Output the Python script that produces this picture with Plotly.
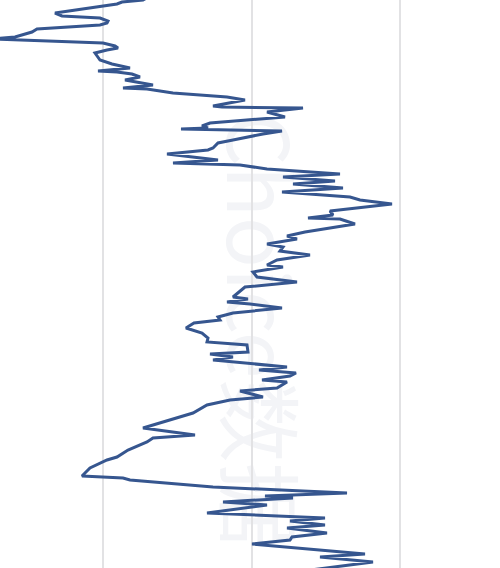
import plotly.graph_objects as go

# Series: step (vertical position, top -> bottom) and value (horizontal)
steps = [
    -4, 0, 2, 4, 13, 16, 18, 21, 23, 25, 29, 32, 37, 39,
    43, 46, 48, 50, 53, 60, 64, 68, 71, 72, 74, 77, 80, 85, 88, 89,
    93, 97, 100, 106, 107, 108, 112, 117, 123, 126, 128, 129, 131, 134,
    140, 143, 148, 150, 154, 160, 163, 165, 169, 174, 177, 181, 184, 188,
    192, 197, 200, 204, 211, 215, 218, 219, 224, 232, 236, 239, 244, 247,
    251, 255, 260, 265, 267, 272, 277, 282, 287, 293, 297, 299, 302, 304,
    308, 313, 317, 320, 323, 328, 333, 338, 342, 345, 352, 354, 357, 360,
    364, 367, 370, 373, 376, 380, 382, 388, 391, 397, 400, 405, 413, 428,
    435, 438, 442, 450, 457, 460, 468, 476, 478, 480, 487, 493, 496, 498,
    502, 505, 513, 518, 521, 525, 528, 533, 537, 540, 544, 554, 557, 562,
    572,
]
values = [
    150, 143, 122, 117, 55, 62, 100, 108, 107, 100, 37, 32, 15, -8,
    103, 115, 118, 107, 95, 100, 112, 130, 98, 117, 132, 140, 125, 153, 123, 147,
    173, 227, 245, 213, 222, 303, 267, 285, 210, 202, 208, 181, 282, 263,
    233, 218, 213, 208, 167, 218, 173, 240, 267, 340, 283, 335, 293, 343,
    282, 350, 360, 392, 330, 333, 308, 340, 355, 305, 287, 297, 267, 283,
    280, 310, 277, 267, 283, 253, 257, 297, 245, 238, 233, 248, 227, 250,
    282, 233, 218, 220, 194, 186, 202, 208, 207, 247, 248, 210, 233, 213,
    252, 287, 259, 296, 290, 262, 287, 277, 240, 263, 230, 207, 193, 143,
    195, 153, 147, 128, 117, 107, 90, 82, 123, 130, 213, 347, 265, 293,
    223, 267, 207, 325, 290, 325, 287, 327, 292, 290, 252, 365, 320, 373,
    295,
]

grid_values = [103, 251.5, 400]
watermark = "Choice数据"

fig = go.Figure()
fig.add_trace(go.Scatter(
    x=values, y=steps, mode="lines",
    line=dict(color="#36568f", width=3),
    hoverinfo="skip", showlegend=False,
))

# faint watermark beneath the line
fig.add_shape(
    type="rect", xref="paper", yref="paper", x0=0.35, x1=0.65, y0=0.06, y1=0.78,
    line=dict(width=0), fillcolor="rgba(0,0,0,0)", layer="below",
    label=dict(text=watermark, textangle=90,
               font=dict(size=84, color="#f3f4f7", family="Noto Sans CJK SC")),
)

fig.update_xaxes(
    range=[0, 500], tickvals=grid_values, showticklabels=False,
    showgrid=True, gridcolor="#e2e2e4", gridwidth=1.5,
    zeroline=False, showline=False, ticks="",
)
fig.update_yaxes(
    range=[568, 0], showgrid=False, showticklabels=False,
    zeroline=False, showline=False, ticks="",
)
fig.update_layout(
    width=500, height=568,
    margin=dict(l=0, r=0, t=0, b=0),
    plot_bgcolor="white", paper_bgcolor="white",
)

fig.write_html("out.html", config={"displayModeBar": False},
               post_script="document.body.style.margin='0';")
